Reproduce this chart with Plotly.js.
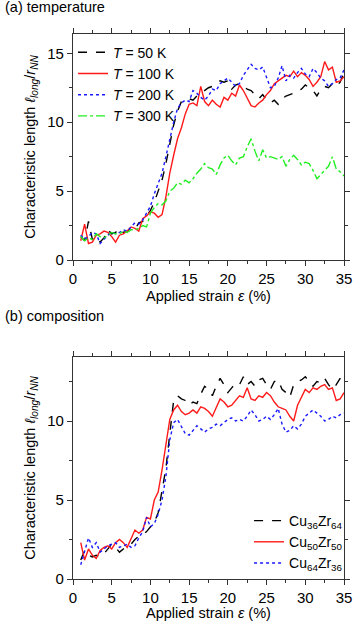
<!DOCTYPE html>
<html>
<head>
<meta charset="utf-8">
<script src="https://cdn.plot.ly/plotly-3.0.1.min.js"></script>
<style>
  html, body { margin: 0; padding: 0; background: #fff; }
  #chart { width: 357px; height: 621px; }
</style>
</head>
<body>
<div id="chart"></div>
<script>
var strain = [1,1.5,2,2.5,3,3.5,4,4.5,5,5.5,6,6.5,7,7.5,8,8.5,9,9.5,10,10.5,
  11,11.5,12,12.5,13,13.5,14,14.5,15,15.5,16,16.5,17,17.5,18,18.5,19,19.5,20,20.5,
  21,21.5,22,22.5,23,23.5,24,24.5,25,25.5,26,26.5,27,27.5,28,28.5,29,29.5,30,30.5,
  31,31.5,32,32.5,33,33.5,34,34.5,35];

// (a) temperature
var t50 = [1.7,1.4,2.8,1.5,1.7,1.3,1.6,2.2,1.9,2.0,2.3,2.0,2.1,2.3,2.2,2.7,2.8,3.2,3.6,4.2,
  5.0,5.8,7.0,8.3,9.8,10.8,11.5,11.6,11.7,11.6,11.9,12.1,12.3,12.5,12.6,12.8,13.0,12.9,13.0,12.4,
  12.7,12.8,12.6,12.4,12.3,12.0,11.7,12.0,11.6,11.4,11.6,11.3,11.7,11.9,12.0,12.1,12.3,12.4,12.7,12.5,
  12.3,11.9,12.4,12.6,12.5,12.8,12.6,12.9,13.6];
var t100 = [1.4,2.6,1.2,1.3,1.8,1.9,2.1,2.0,1.7,1.3,1.8,1.9,2.1,2.4,2.3,2.1,3.0,3.2,3.5,3.4,
  3.1,3.3,4.6,6.3,7.6,8.8,9.6,10.6,11.3,11.4,11.2,12.6,11.5,11.2,11.6,11.3,11.1,11.8,11.6,12.1,
  11.9,12.7,12.3,11.8,11.2,11.1,11.4,11.6,12.0,12.3,12.8,13.0,13.2,13.4,13.3,13.7,13.3,13.6,13.4,13.1,
  12.6,12.9,13.3,14.4,13.8,14.0,12.9,13.0,13.3];
var t200 = [1.8,1.5,1.7,2.0,1.9,1.2,1.5,1.8,2.0,1.9,2.0,2.2,2.1,2.4,2.7,2.6,2.9,3.4,3.9,4.8,
  5.6,6.3,7.5,8.8,10.0,11.0,11.4,11.6,11.5,12.3,12.1,11.8,11.6,11.9,12.4,12.3,12.8,13.0,13.2,12.9,
  12.6,12.8,13.4,13.8,14.2,13.9,13.8,14.0,13.3,12.5,12.6,13.2,14.1,13.0,13.4,13.2,13.6,13.9,13.5,13.3,
  13.9,13.6,13.2,13.0,12.6,12.8,13.1,13.2,13.8];
var t300 = [1.7,1.4,1.6,1.5,1.9,1.7,1.6,1.8,2.0,1.9,1.9,2.1,2.0,2.2,2.2,2.3,2.5,2.4,3.4,3.8,
  4.1,4.0,4.3,5.0,5.2,5.6,5.5,5.8,5.6,5.9,6.3,6.6,7.0,6.7,6.6,6.2,6.9,7.4,7.6,7.2,
  6.9,7.4,7.5,8.2,8.8,7.9,7.2,8.0,7.4,7.5,7.4,7.3,7.5,6.8,7.3,7.6,7.3,6.9,7.1,7.0,
  6.5,5.9,6.2,6.5,6.8,7.5,6.6,6.4,6.1];

// (b) composition
var cu36 = [1.2,1.8,1.5,1.4,1.5,1.4,1.6,1.9,2.2,2.0,1.7,1.9,2.1,2.2,2.5,2.7,2.8,3.0,3.3,3.6,
  4.2,5.6,7.0,9.2,11.3,11.6,11.4,11.3,11.0,11.2,11.1,11.7,12.2,12.0,11.6,12.2,12.7,12.3,11.8,12.1,
  12.4,12.3,12.8,12.3,12.5,12.2,12.6,12.7,12.3,12.0,12.5,12.6,12.0,11.8,11.5,12.3,12.5,12.6,12.8,12.5,
  12.2,12.5,12.4,12.7,12.3,12.0,12.3,12.7,12.2];
var cu50 = [2.3,1.2,1.9,1.5,1.3,1.8,2.0,2.1,1.9,2.3,2.5,2.3,2.0,2.6,3.1,2.9,3.1,3.9,3.8,5.0,
  5.5,6.9,8.6,10.1,10.7,11.0,10.6,10.4,10.5,10.7,10.5,10.9,10.8,10.6,10.3,10.9,11.4,11.2,10.9,11.0,
  11.3,11.6,11.5,12.1,11.4,11.3,11.6,11.5,11.8,11.6,11.2,10.9,10.8,10.7,10.3,10.0,11.0,11.5,12.0,11.8,
  12.1,12.0,12.2,12.3,12.0,12.1,11.3,11.4,11.8];
var cu64 = [0.9,1.7,2.6,2.0,2.3,1.7,1.9,2.1,2.2,2.3,2.0,2.1,2.2,2.0,2.1,2.6,3.0,3.9,3.3,3.5,
  4.1,5.0,6.5,8.8,9.9,10.1,9.6,9.2,9.1,9.4,9.7,9.5,9.3,9.5,9.6,9.8,9.7,9.9,10.1,10.2,
  10.0,10.1,10.0,10.3,10.7,10.4,10.0,10.1,10.3,10.1,10.4,10.8,9.8,9.3,9.4,9.7,9.5,9.8,10.3,10.5,
  10.7,10.5,10.3,10.0,10.1,10.3,10.2,10.4,10.5];

var namesA = ['<i>T</i> = 50 K', '<i>T</i> = 100 K', '<i>T</i> = 200 K', '<i>T</i> = 300 K'];
var namesB = ['Cu<sub>36</sub>Zr<sub>64</sub>', 'Cu<sub>50</sub>Zr<sub>50</sub>', 'Cu<sub>64</sub>Zr<sub>36</sub>'];

var black = '#000000', red = '#ff1a1a', blue = '#1a1aff', green = '#22ee22';

function tr(y, name, color, dash, xa, ya, leg) {
  return {
    x: strain, y: y, name: name, type: 'scatter', mode: 'lines',
    xaxis: xa, yaxis: ya, legend: leg,
    line: {color: color, dash: dash, width: 1.4}
  };
}

var data = [
  tr(t50, namesA[0], black, 'dash', 'x', 'y', 'legend'),
  tr(t100, namesA[1], red, 'solid', 'x', 'y', 'legend'),
  tr(t200, namesA[2], blue, 'dot', 'x', 'y', 'legend'),
  tr(t300, namesA[3], green, 'dashdot', 'x', 'y', 'legend'),
  tr(cu36, namesB[0], black, 'dash', 'x2', 'y2', 'legend2'),
  tr(cu50, namesB[1], red, 'solid', 'x2', 'y2', 'legend2'),
  tr(cu64, namesB[2], blue, 'dot', 'x2', 'y2', 'legend2')
];

var ytitle = 'Characteristic length <i>ℓ</i><sub><i>long</i></sub>/<i>r</i><sub><i>NN</i></sub>';
var xtitle = 'Applied strain <i>ε</i> (%)';

function xax(anchor) {
  return {
    anchor: anchor, range: [0, 35], dtick: 5, tick0: 0,
    ticks: 'outside', ticklen: 5, tickwidth: 1, tickcolor: '#333',
    minor: {ticks: 'outside', dtick: 2.5, ticklen: 3, tickcolor: '#333'},
    showline: true, linecolor: '#333', linewidth: 1.3, mirror: 'ticks',
    showgrid: false, zeroline: false,
    tickfont: {size: 15},
    title: {text: xtitle, font: {size: 14.5}, standoff: 4}
  };
}
function yax(anchor, domain, top) {
  return {
    anchor: anchor, domain: domain, range: [0, top], dtick: 5, tick0: 0,
    ticks: 'outside', ticklen: 5, tickwidth: 1, tickcolor: '#333',
    minor: {ticks: 'outside', dtick: 2.5, ticklen: 3, tickcolor: '#333'},
    showline: true, linecolor: '#333', linewidth: 1.3, mirror: 'ticks',
    showgrid: false, zeroline: false,
    tickfont: {size: 15},
    title: {text: ytitle, font: {size: 14.5}, standoff: 8}
  };
}

var layout = {
  width: 357, height: 621,
  margin: {l: 73, r: 9, t: 34, b: 42},
  font: {family: '"Liberation Sans", Arial, sans-serif', color: '#000', size: 14.5},
  paper_bgcolor: '#fff', plot_bgcolor: '#fff',
  xaxis: xax('y'),
  yaxis: yax('x', [0.5853, 1], 16.4),
  xaxis2: xax('y2'),
  yaxis2: yax('x2', [0, 0.4073], 14.05),
  showlegend: true,
  legend: {
    x: 0, y: 0.995, xanchor: 'left', yanchor: 'top', xref: 'paper', yref: 'paper',
    bgcolor: 'rgba(0,0,0,0)', borderwidth: 0, tracegroupgap: 0,
    font: {size: 14}
  },
  legend2: {
    x: 1.015, y: 0.0, xanchor: 'right', yanchor: 'bottom', xref: 'paper', yref: 'paper',
    bgcolor: 'rgba(0,0,0,0)', borderwidth: 0, tracegroupgap: 0,
    font: {size: 14}
  },
  annotations: [
    {text: '(a) temperature', xref: 'paper', yref: 'paper', x: -0.258, y: 1.0495,
      xanchor: 'left', yanchor: 'middle', showarrow: false, font: {size: 14.5}},
    {text: '(b) composition', xref: 'paper', yref: 'paper', x: -0.258, y: 0.4826,
      xanchor: 'left', yanchor: 'middle', showarrow: false, font: {size: 14.5}}
  ]
};

var config = {displayModeBar: false, responsive: false};
Plotly.newPlot('chart', data, layout, config);
</script>
</body>
</html>
